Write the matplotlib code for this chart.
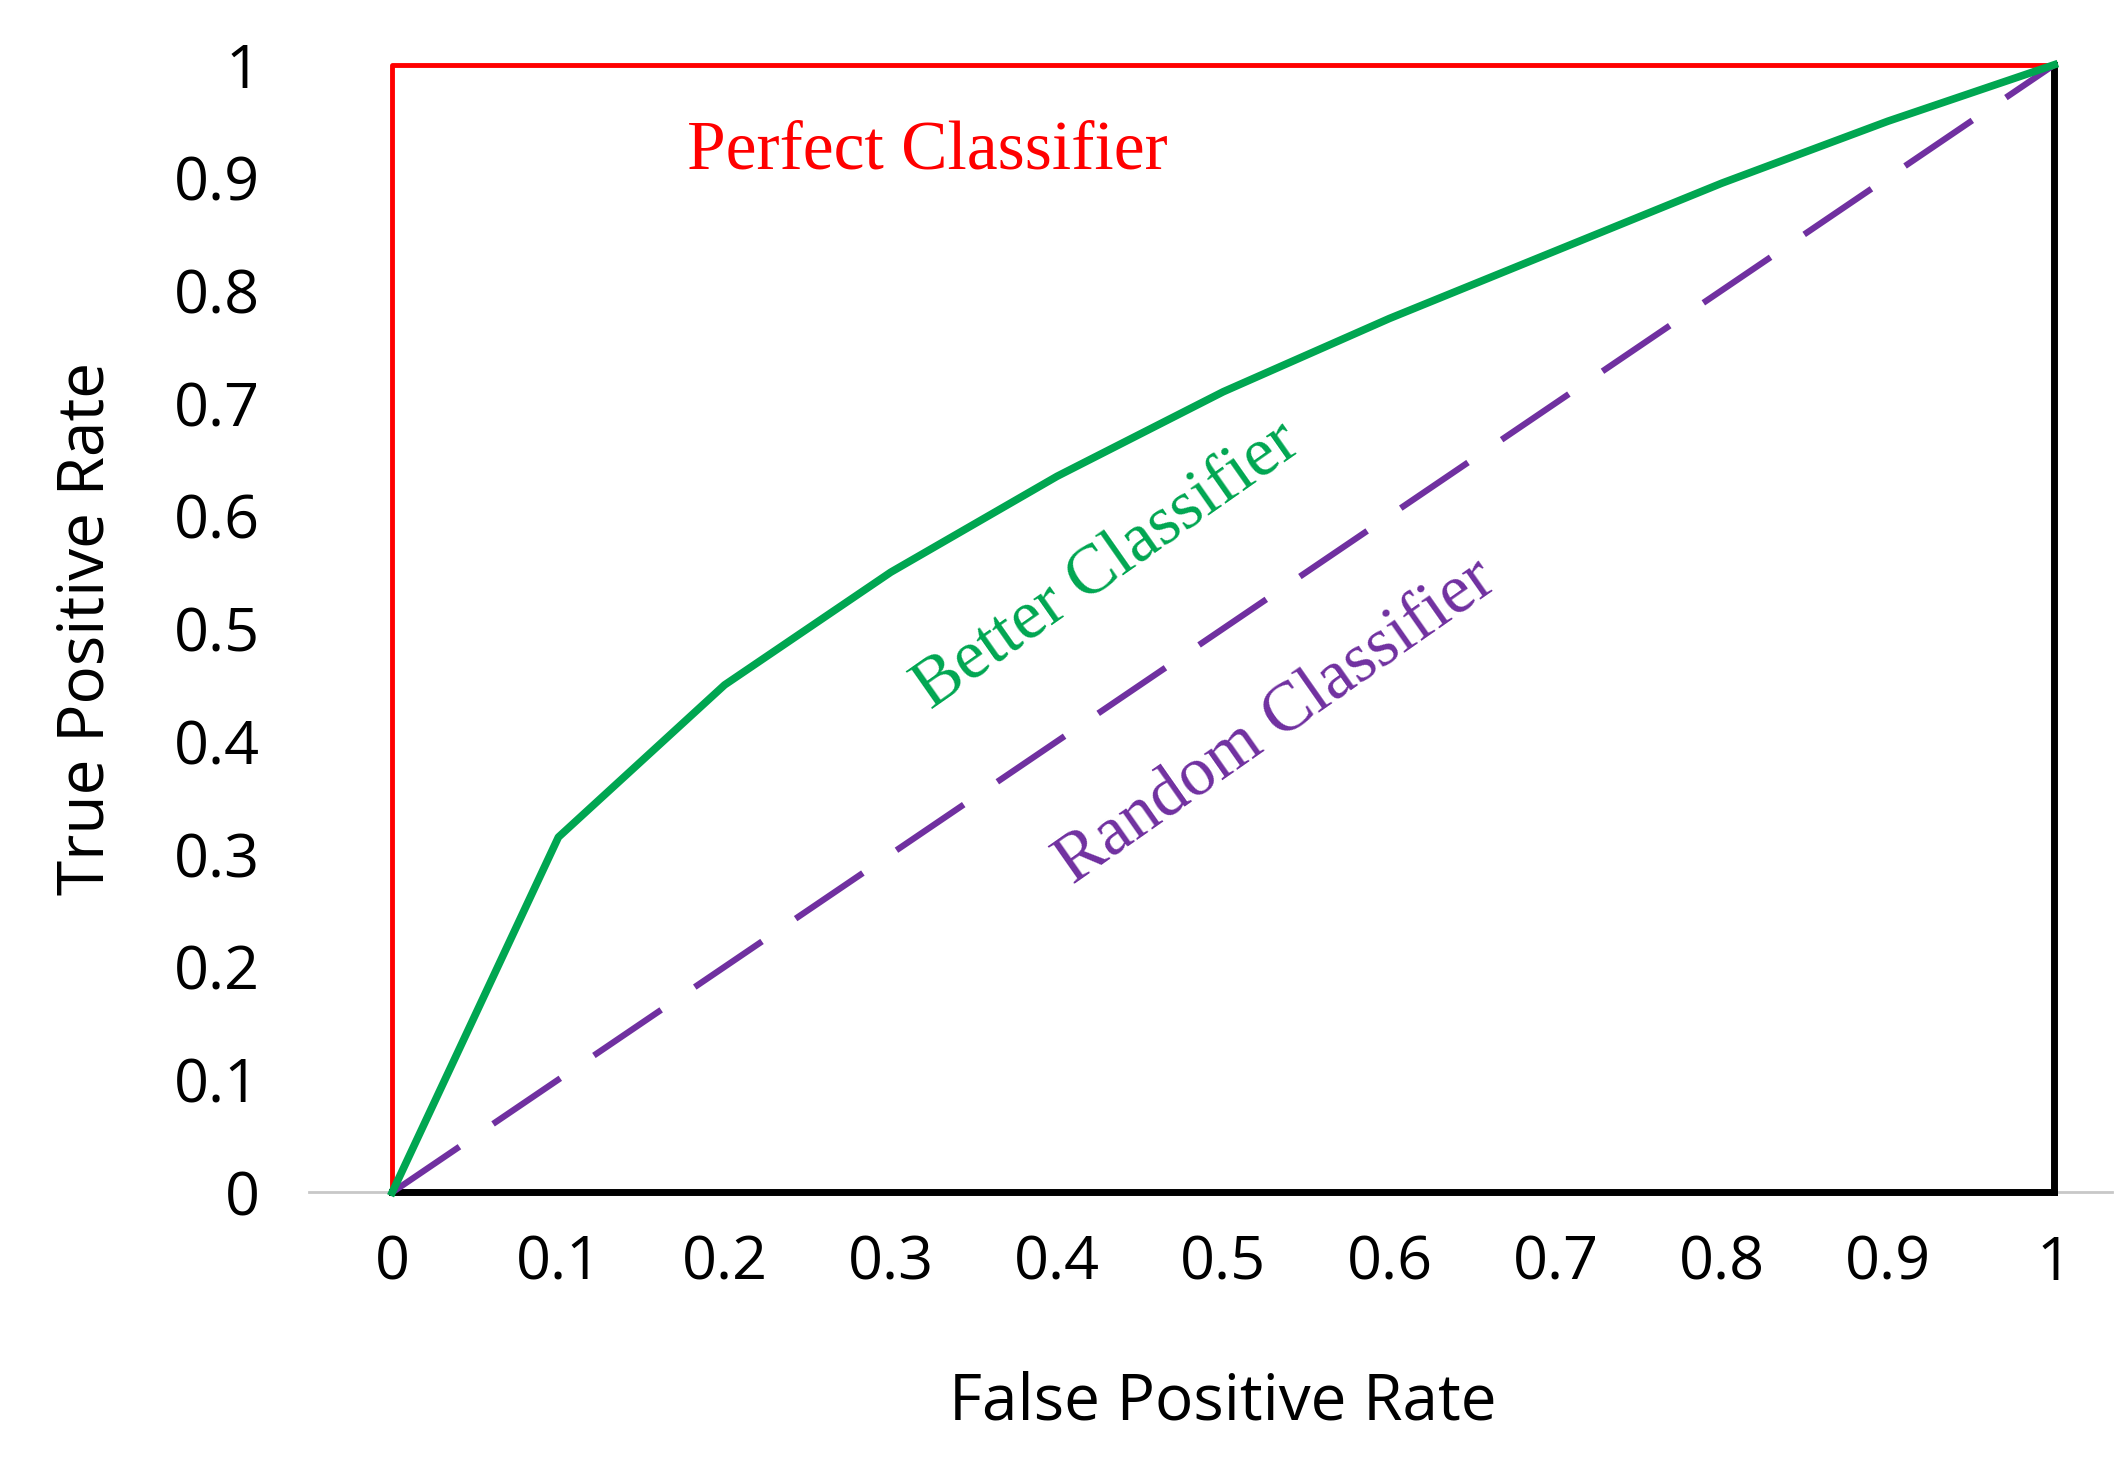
import matplotlib
matplotlib.use("Agg")
import matplotlib.pyplot as plt

fpr_better = [0, 0.1, 0.2, 0.3, 0.4, 0.5, 0.6, 0.7, 0.8, 0.9, 1.0]
tpr_better = [0, 0.315, 0.45, 0.55, 0.635, 0.71, 0.775, 0.835, 0.895, 0.95, 1.0]
fpr_random = [0, 1]
tpr_random = [0, 1]
fpr_perfect = [0, 0, 1]
tpr_perfect = [0, 1, 1]
ticks = [0, 0.1, 0.2, 0.3, 0.4, 0.5, 0.6, 0.7, 0.8, 0.9, 1]
tick_labels = ["0", "0.1", "0.2", "0.3", "0.4", "0.5", "0.6", "0.7", "0.8", "0.9", "1"]

fig = plt.figure(figsize=(21.2, 14.72), dpi=100)
ax = fig.add_axes([0.185, 0.19, 0.784, 0.766])
ax.set_xlim(0, 1)
ax.set_ylim(0, 1)
for s in ax.spines.values():
    s.set_visible(False)

ax.plot([-0.05, 1.035], [0, 0], color="#c8c8c8", lw=2, clip_on=False, zorder=1)
ax.plot([0, 1], [0, 0], color="black", lw=5, clip_on=False, zorder=2)
ax.plot([1, 1], [0, 1], color="black", lw=5, clip_on=False, zorder=2)
ax.plot(fpr_perfect, tpr_perfect, color="#ff0000", lw=3.5, clip_on=False, zorder=3)
ax.plot(fpr_random, tpr_random, color="#7030a0", lw=4.5, dashes=(13, 6.5), clip_on=False, zorder=3)
ax.plot(fpr_better, tpr_better, color="#00a651", lw=5.5, clip_on=False, zorder=4)

ax.set_xticks(ticks)
ax.set_xticklabels(tick_labels)
ax.set_yticks(ticks)
ax.set_yticklabels(tick_labels)
ax.tick_params(length=0, labelsize=44, pad=30)
ax.tick_params(axis="y", pad=95)
for lab in ax.get_xticklabels() + ax.get_yticklabels():
    lab.set_family("Open Sans")
ax.set_xlabel("False Positive Rate", fontsize=46, family="Open Sans", labelpad=55)
ax.set_ylabel("True Positive Rate", fontsize=46, family="Open Sans", labelpad=40)

ax.text(0.322, 0.923, "Perfect Classifier", color="#ff0000", fontsize=50,
        family="Liberation Serif", ha="center", va="center")
ax.text(0.43, 0.556, "Better Classifier", color="#00a651", fontsize=50,
        family="Liberation Serif", ha="center", va="center", rotation=35)
ax.text(0.532, 0.417, "Random Classifier", color="#7030a0", fontsize=50,
        family="Liberation Serif", ha="center", va="center", rotation=35)

fig.savefig("out.png", dpi=100)
